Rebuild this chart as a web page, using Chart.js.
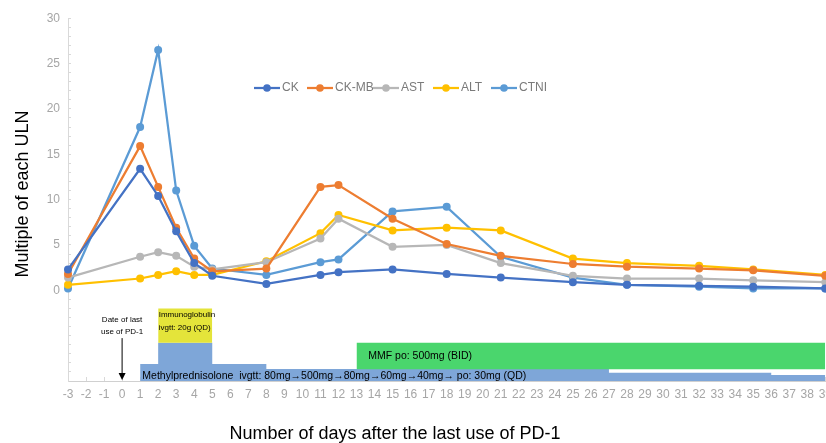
<!DOCTYPE html>
<html lang="en">
<head>
<meta charset="UTF-8">
<title>Multiple of each ULN after PD-1</title>
<script src="https://cdn.jsdelivr.net/npm/chart.js"></script>
<style>
  body { margin: 0; background: #fff; overflow: hidden; }
  #wrap { width: 842px; height: 443px; }
</style>
</head>
<body>
<div id="wrap"><canvas id="labChart" width="842" height="443"></canvas></div>
<script>
// lab values, multiple of upper limit of normal
const days = [-3, 1, 2, 3, 4, 5, 8, 11, 12, 15, 18, 21, 25, 28, 32, 35, 39];
const ck   = [2.3, 13.4, 10.4, 6.5, 3.0, 1.6, 0.7, 1.7, 2.0, 2.3, 1.8, 1.4, 0.9, 0.6, 0.5, 0.4, 0.2];
const ckmb = [1.8, 15.9, 11.4, 6.9, 3.5, 2.1, 2.4, 11.4, 11.6, 7.9, 5.1, 3.8, 2.9, 2.6, 2.4, 2.2, 1.6];
const ast  = [1.4, 3.7, 4.2, 3.8, 2.6, 2.3, 3.1, 5.7, 7.9, 4.8, 5.0, 3.0, 1.6, 1.3, 1.3, 1.1, 0.9];
const alt  = [0.6, 1.3, 1.7, 2.1, 1.7, 1.7, 3.2, 6.3, 8.3, 6.6, 6.9, 6.6, 3.5, 3.0, 2.7, 2.3, 1.7];
const ctni = [0.2, 18.0, 26.5, 11.0, 4.9, 2.4, 1.7, 3.1, 3.4, 8.7, 9.2, 3.7, 1.4, 0.6, 0.4, 0.2, 0.2];

const seriesNames  = ['CK', 'CK-MB', 'AST', 'ALT', 'CTNI'];
const seriesColors = ['#4472C4', '#ED7D31', '#B7B7B7', '#FFC000', '#5B9BD5'];

// treatment bars below zero (levels on the same y scale)
const mpDays  = [1, 2, 5, 8, 27, 36, 39];
const mpLevel = [-8.13, -5.79, -8.13, -8.68, -9.09, -9.34, -9.34];
const igDays  = [2, 5];
const igLevel = [-2.0, -2.0];
const igBase  = -5.79;
const mmfDays  = [13, 39];
const mmfLevel = [-5.79, -5.79];
const mmfBase  = -8.71;

const yTicksShown = [0, 5, 10, 15, 20, 25, 30];

const notes = [
  { text: 'Immunoglobulin', day: 2.03, level: -2.75, size: 8, align: 'left' },
  { text: 'ivgtt: 20g (QD)', day: 2.03, level: -4.18, size: 8, align: 'left' },
  { text: 'Date of last', day: 0, level: -3.3, size: 8, align: 'center' },
  { text: 'use of PD-1', day: 0, level: -4.55, size: 8, align: 'center' },
  { text: 'MMF po: 500mg (BID)', day: 13.65, level: -7.22, size: 10.5, align: 'left' },
  { text: 'Methylprednisolone  ivgtt: 80mg\u2192500mg\u219280mg\u219260mg\u219240mg\u2192 po: 30mg (QD)', day: 1.12, level: -9.42, size: 10.5, align: 'left' }
];

const legendX = [254, 307, 373, 433, 491];

const FONT = '"Liberation Sans", Arial, sans-serif';

const overlay = {
  id: 'overlay',
  afterDatasetsDraw(chart) {
    const { ctx, scales: { x, y } } = chart;
    ctx.save();
    ctx.textBaseline = 'middle';
    notes.forEach(n => {
      ctx.font = n.size + 'px ' + FONT;
      ctx.fillStyle = '#000';
      ctx.textAlign = n.align;
      ctx.fillText(n.text, x.getPixelForValue(n.day), y.getPixelForValue(n.level));
    });

    // arrow to day 0
    const ax = x.getPixelForValue(0);
    const a0 = y.getPixelForValue(-5.27), a1 = y.getPixelForValue(-9.9);
    ctx.strokeStyle = '#000';
    ctx.lineWidth = 1;
    ctx.beginPath();
    ctx.moveTo(ax, a0);
    ctx.lineTo(ax, a1 - 6);
    ctx.stroke();
    ctx.fillStyle = '#000';
    ctx.beginPath();
    ctx.moveTo(ax - 3.5, a1 - 7);
    ctx.lineTo(ax + 3.5, a1 - 7);
    ctx.lineTo(ax, a1);
    ctx.closePath();
    ctx.fill();

    // legend inside plot
    ctx.font = '12px ' + FONT;
    ctx.textAlign = 'left';
    const ly = 88;
    chart.data.datasets.filter(d => seriesNames.includes(d.label)).forEach((d, i) => {
      const lx = legendX[i];
      ctx.strokeStyle = d.borderColor;
      ctx.lineWidth = 2.25;
      ctx.beginPath();
      ctx.moveTo(lx, ly);
      ctx.lineTo(lx + 26, ly);
      ctx.stroke();
      ctx.fillStyle = d.borderColor;
      ctx.beginPath();
      ctx.arc(lx + 13, ly, 3.8, 0, Math.PI * 2);
      ctx.fill();
      ctx.fillStyle = '#7a7a7a';
      ctx.fillText(d.label, lx + 28, ly);
    });

    // axis titles
    ctx.font = '18px ' + FONT;
    ctx.fillStyle = '#000';
    ctx.textAlign = 'center';
    ctx.fillText('Number of days after the last use of PD-1', 395, 434);
    ctx.translate(23, 194);
    ctx.rotate(-Math.PI / 2);
    ctx.fillText('Multiple of each ULN', 0, 0);
    ctx.restore();
  }
};

const lineSets = seriesNames.map((name, i) => ({
  label: name,
  data: days.map((d, k) => ({ x: d, y: [ck, ckmb, ast, alt, ctni][i][k] })),
  borderColor: seriesColors[i],
  backgroundColor: seriesColors[i],
  borderWidth: 2.25,
  pointRadius: 4,
  pointBorderWidth: 0,
  pointBackgroundColor: seriesColors[i],
  clip: false,
  fill: false
}));

const barSets = [
  {
    label: 'MMF',
    data: mmfDays.map((d, k) => ({ x: d, y: mmfLevel[k] })),
    stepped: true, borderWidth: 0, pointRadius: 0,
    backgroundColor: '#4AD66D', fill: { value: mmfBase }
  },
  {
    label: 'Immunoglobulin',
    data: igDays.map((d, k) => ({ x: d, y: igLevel[k] })),
    stepped: true, borderWidth: 0, pointRadius: 0,
    backgroundColor: '#E4E43A', fill: { value: igBase }
  },
  {
    label: 'Methylprednisolone',
    data: mpDays.map((d, k) => ({ x: d, y: mpLevel[k] })),
    stepped: true, borderWidth: 0, pointRadius: 0,
    backgroundColor: '#7EA6D8', fill: { value: -10 }
  }
];

new Chart(document.getElementById('labChart'), {
  type: 'line',
  data: { datasets: lineSets.concat(barSets) },
  options: {
    responsive: false,
    animation: false,
    layout: { padding: { left: 0, right: 13, top: 16, bottom: 0 } },
    plugins: { legend: { display: false }, tooltip: { enabled: false } },
    scales: {
      x: {
        type: 'linear', min: -3, max: 39,
        afterFit(scale) { scale.height = 62; },
        grid: { drawOnChartArea: false, color: '#d9d9d9', tickLength: -4 },
        border: { color: '#d0d0d0' },
        ticks: { stepSize: 1, autoSkip: false, maxRotation: 0, padding: 10, color: '#a6a6a6', font: { size: 12, family: FONT } }
      },
      y: {
        min: -10, max: 30,
        afterFit(scale) { scale.width = 68; },
        grid: { drawOnChartArea: false, color: '#d9d9d9', tickLength: -3 },
        border: { color: '#d9d9d9' },
        ticks: {
          stepSize: 1, autoSkip: false, padding: 11, color: '#a6a6a6', font: { size: 12, family: FONT },
          callback: v => yTicksShown.includes(v) ? v : ''
        }
      }
    }
  },
  plugins: [overlay]
});
</script>
</body>
</html>
